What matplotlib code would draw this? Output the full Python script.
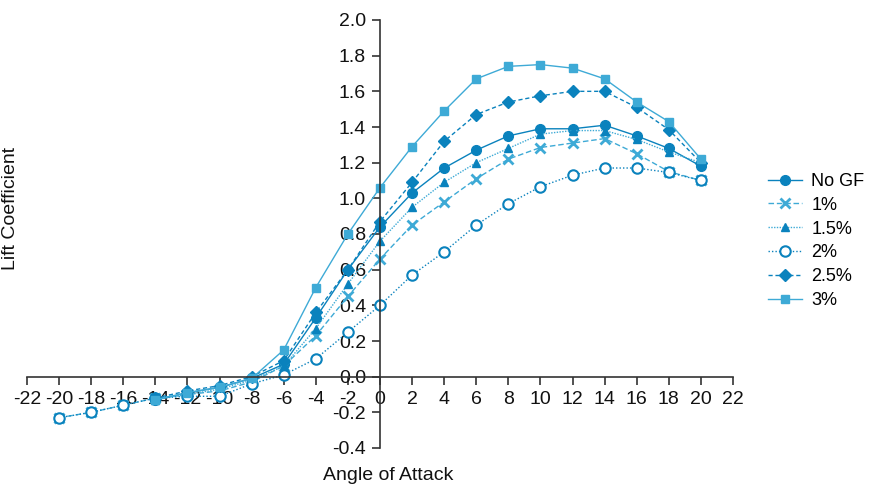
import matplotlib
matplotlib.use("Agg")
import matplotlib.pyplot as plt

plt.rcParams["font.family"] = ["Liberation Sans", "DejaVu Sans"]
plt.rcParams["axes.unicode_minus"] = False

# Anstellwinkel
angles_long = [-20, -18, -16, -14, -12, -10, -8, -6, -4, -2, 0, 2, 4, 6, 8, 10, 12, 14, 16, 18, 20]
angles_short = [-14, -12, -10, -8, -6, -4, -2, 0, 2, 4, 6, 8, 10, 12, 14, 16, 18, 20]

# Auftriebsbeiwerte
no_gf = [-0.13, -0.09, -0.06, -0.01, 0.07, 0.33, 0.60, 0.84, 1.03, 1.17, 1.27, 1.35, 1.39, 1.39, 1.41, 1.35, 1.28, 1.18]
gf_1 = [-0.23, -0.20, -0.16, -0.12, -0.10, -0.08, -0.03, 0.06, 0.23, 0.45, 0.66, 0.85, 0.98, 1.11, 1.22, 1.285, 1.31, 1.335, 1.25, 1.15, 1.10]
gf_15 = [-0.13, -0.10, -0.07, -0.02, 0.06, 0.27, 0.52, 0.76, 0.95, 1.09, 1.20, 1.28, 1.36, 1.38, 1.38, 1.33, 1.26, 1.20]
gf_2 = [-0.23, -0.20, -0.16, -0.12, -0.11, -0.11, -0.04, 0.01, 0.10, 0.25, 0.40, 0.57, 0.70, 0.85, 0.97, 1.065, 1.13, 1.17, 1.17, 1.145, 1.10]
gf_25 = [-0.12, -0.08, -0.05, 0.00, 0.09, 0.36, 0.60, 0.87, 1.09, 1.32, 1.47, 1.54, 1.575, 1.60, 1.60, 1.51, 1.385, 1.20]
gf_3 = [-0.13, -0.09, -0.06, -0.01, 0.15, 0.50, 0.80, 1.06, 1.29, 1.49, 1.67, 1.74, 1.75, 1.73, 1.67, 1.54, 1.43, 1.22]

dark = "#0a82bd"
light = "#3eaad6"

fig = plt.figure(figsize=(8.69, 4.87), dpi=100)
ax = fig.add_axes([27 / 869, 1 - 448 / 487, (733 - 27) / 869, (448 - 20) / 487])

ax.plot(angles_short, no_gf, color=dark, ls="-", lw=1, marker="o", ms=7, label="No GF")
ax.plot(angles_long, gf_1, color=light, ls=(0, (4, 2)), lw=1, marker="x", ms=6.5, mew=2, label="1%")
ax.plot(angles_short, gf_15, color=light, ls=(0, (1, 1)), lw=1, marker="^", ms=6, mec=dark, mfc=dark, label="1.5%")
ax.plot(angles_long, gf_2, color=dark, ls=(0, (1, 1.5)), lw=1, marker="o", ms=7.5, mfc="white", mew=1.5, label="2%")
ax.plot(angles_short, gf_25, color=dark, ls=(0, (3, 2)), lw=1, marker="D", ms=6, label="2.5%")
ax.plot(angles_short, gf_3, color=light, ls="-", lw=1, marker="s", ms=6, label="3%")

ax.set_xlim(-22, 22)
ax.set_ylim(-0.4, 2.0)
ax.set_xticks(range(-22, 23, 2))
ax.set_yticks([-0.4 + 0.2 * i for i in range(13)])
ax.set_yticklabels([f"{-0.4 + 0.2 * i:.1f}" for i in range(13)])

ax.spines["left"].set_position(("data", 0))
ax.spines["bottom"].set_position(("data", 0))
ax.spines["right"].set_visible(False)
ax.spines["top"].set_visible(False)
for s in ["left", "bottom"]:
    ax.spines[s].set_color("#333333")
    ax.spines[s].set_linewidth(1.2)
ax.tick_params(direction="out", length=6, width=1.2, color="#333333", labelsize=14, pad=4,
               labelcolor="#111111")

fig.text(388 / 869, 1 - 475 / 487, "Angle of Attack", fontsize=14, ha="center", va="center", color="#111111")
fig.text(11 / 869, 1 - 208 / 487, "Lift Coefficient", fontsize=14, rotation=90,
         ha="center", va="center", color="#111111")

fig.legend(loc="center left", bbox_to_anchor=(768 / 869, 1 - 241 / 487), frameon=False,
           fontsize=13, handlelength=1.9, labelspacing=0.38, borderpad=0, handletextpad=0.5,
           borderaxespad=0)

fig.savefig("out.png", dpi=100)
